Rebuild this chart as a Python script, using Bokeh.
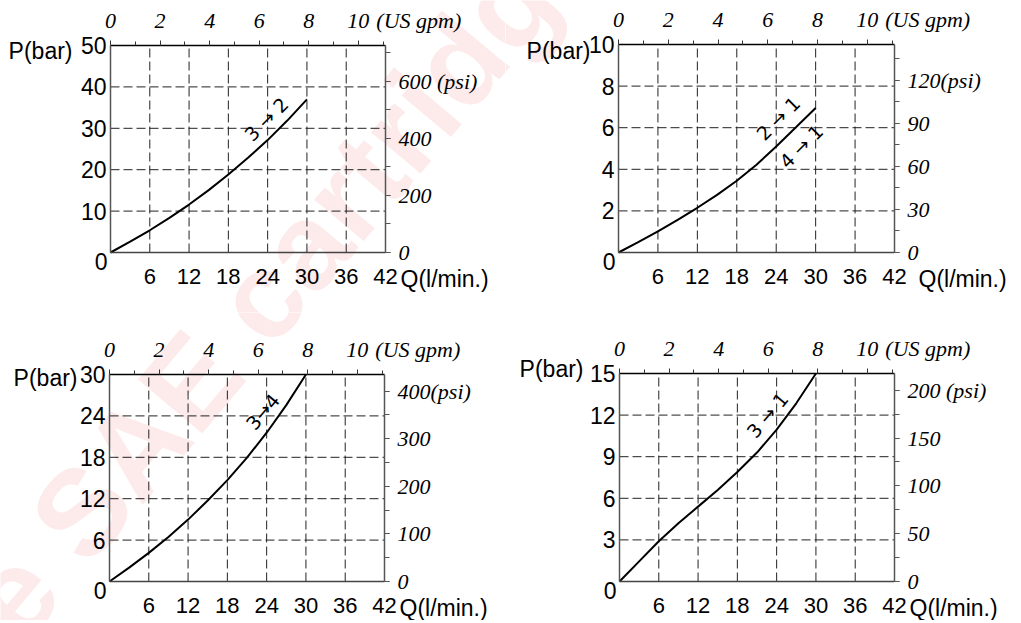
from bokeh.plotting import figure
from bokeh.models import Range1d, LinearAxis, FixedTicker, Label
from bokeh.layouts import column, row
from bokeh.embed import file_html
from bokeh.resources import INLINE

# ---------------- data ----------------
q_flow = [0, 3, 6, 9, 12, 15, 18, 21, 24, 27, 30]          # l/min
p_3to2 = [0, 2.6, 5.37, 8.35, 11.58, 15.07, 18.83, 22.86, 27.15, 31.87, 37.0]
p_2to1 = [0, 0.5, 1.02, 1.57, 2.15, 2.77, 3.45, 4.22, 5.1, 6.02, 6.95]
p_3to4 = [0, 2.01, 4.15, 6.46, 8.97, 11.73, 14.69, 17.95, 21.56, 25.56, 30.0]
p_3to1 = [0, 1.45, 2.9, 4.2, 5.4, 6.6, 7.9, 9.3, 10.95, 12.85, 15.0]

q_ticks = [6, 12, 18, 24, 30, 36, 42]
gpm_major = [0, 2, 4, 6, 8, 10]
gpm_minor = list(range(0, 12))

bar_ticks_1 = [0, 10, 20, 30, 40, 50]
bar_ticks_2 = [0, 2, 4, 6, 8, 10]
bar_ticks_3 = [0, 6, 12, 18, 24, 30]
bar_ticks_4 = [0, 3, 6, 9, 12, 15]

psi_major_1 = [0, 200, 400, 600]
psi_minor_1 = [0, 100, 200, 300, 400, 500, 600, 700]
psi_major_2 = [0, 30, 60, 90, 120]
psi_minor_2 = [0, 15, 30, 45, 60, 75, 90, 105, 120, 135]
psi_major_3 = [0, 100, 200, 300, 400]
psi_minor_3 = [0, 50, 100, 150, 200, 250, 300, 350, 400]
psi_major_4 = [0, 50, 100, 150, 200]
psi_minor_4 = [0, 25, 50, 75, 100, 125, 150, 175, 200]

psi_label_1 = "600 (psi)"
psi_label_2 = "120(psi)"
psi_label_3 = "400(psi)"
psi_label_4 = "200 (psi)"

label_3to2 = "3 → 2"
label_2to1 = "2 → 1"
label_4to1 = "4 → 1"
label_3to4 = "3→4"
label_3to1 = "3 → 1"

LPM_PER_GPM = 3.785411784
PSI_PER_BAR = 14.5038
Q_MAX = 42

SANS = "Liberation Sans"
SERIF = "Liberation Serif"
WM_TEXT = "e SAE cartridge"
WM_PAGE = (-10, 620)


def make_panel(cx, cy, cw, ch, frame_l, frame_t, fw, fh,
               bar_ticks, psi_major, psi_minor, psi_label, q, p,
               notes, pbar_off, q_off):
    ymax = bar_ticks[-1]
    bl = frame_l - cx          # frame offset inside canvas
    bt = frame_t - cy
    kx = Q_MAX / fw            # data units per pixel
    ky = ymax / fh
    x0, x1 = -bl * kx, (cw - bl) * kx
    y1 = ymax + bt * ky
    y0 = -(ch - bt - fh) * ky

    fig = figure(width=cw, height=ch, x_range=Range1d(x0, x1), y_range=Range1d(y0, y1),
                 toolbar_location=None, output_backend="svg", title=None,
                 x_axis_location=None, y_axis_location=None,
                 min_border=0, min_border_left=0, min_border_right=0,
                 min_border_top=0, min_border_bottom=0)
    fig.center = []
    fig.outline_line_color = None
    fig.background_fill_color = "white"
    fig.border_fill_color = "white"

    # watermark (decorative), anchored in page coordinates
    wx = (WM_PAGE[0] - frame_l) * kx
    wy = (frame_t + fh - WM_PAGE[1]) * ky
    fig.add_layout(Label(x=wx, y=wy, text=WM_TEXT, angle=50, angle_units="deg",
                         text_font=SANS, text_font_style="bold", text_font_size="122px",
                         text_color="#fdebeb", text_align="left",
                         text_baseline="alphabetic", level="image"))

    # dashed grid, limited to the plot box
    gx = q_ticks[:-1]
    gy = bar_ticks[1:-1]
    fig.segment(x0=gx, y0=[0] * len(gx), x1=gx, y1=[ymax] * len(gx),
                line_color="#222", line_dash="9 4", line_width=1)
    fig.segment(x0=[0] * len(gy), y0=gy, x1=[Q_MAX] * len(gy), y1=gy,
                line_color="#222", line_dash="9 4", line_width=1)

    # bottom axis: l/min
    xb = LinearAxis(ticker=FixedTicker(ticks=q_ticks), fixed_location=0, bounds=(0, Q_MAX))
    xb.major_tick_line_color = None
    xb.minor_tick_line_color = None
    xb.major_label_text_font = SANS
    xb.major_label_text_font_size = "22px"
    xb.major_label_text_color = "black"
    xb.major_label_standoff = 10
    xb.axis_line_color = "#444"
    xb.axis_line_width = 1.5
    fig.add_layout(xb, "below")

    # left axis: bar
    yl = LinearAxis(ticker=FixedTicker(ticks=bar_ticks[1:]), fixed_location=0, bounds=(0, ymax))
    yl.major_tick_line_color = None
    yl.minor_tick_line_color = None
    yl.major_label_text_font = SANS
    yl.major_label_text_font_size = "23px"
    yl.major_label_text_color = "black"
    yl.major_label_standoff = -2
    yl.axis_line_color = "#555"
    yl.axis_line_width = 1.5
    fig.add_layout(yl, "left")

    # top axis: US gpm
    fig.extra_x_ranges = {"gpm": Range1d(x0 / LPM_PER_GPM, x1 / LPM_PER_GPM)}
    ax_top = LinearAxis(x_range_name="gpm", fixed_location=ymax,
                        bounds=(0, Q_MAX / LPM_PER_GPM),
                        ticker=FixedTicker(ticks=gpm_major, minor_ticks=gpm_minor))
    ax_top.major_tick_out = 5
    ax_top.major_tick_in = 0
    ax_top.minor_tick_out = 4
    ax_top.minor_tick_in = 0
    ax_top.major_tick_line_color = "#333"
    ax_top.minor_tick_line_color = "#333"
    ax_top.axis_line_color = "black"
    ax_top.axis_line_width = 1.5
    ax_top.major_label_text_font = SERIF
    ax_top.major_label_text_font_style = "italic"
    ax_top.major_label_text_font_size = "22px"
    ax_top.major_label_text_color = "black"
    ax_top.major_label_standoff = 13
    fig.add_layout(ax_top, "above")

    # right axis: psi
    fig.extra_y_ranges = {"psi": Range1d(y0 * PSI_PER_BAR, y1 * PSI_PER_BAR)}
    ax_r = LinearAxis(y_range_name="psi", fixed_location=Q_MAX,
                      bounds=(0, ymax * PSI_PER_BAR),
                      ticker=FixedTicker(ticks=psi_major, minor_ticks=psi_minor))
    ax_r.major_label_overrides = {psi_major[-1]: psi_label}
    ax_r.major_tick_out = 5
    ax_r.major_tick_in = 0
    ax_r.minor_tick_out = 5
    ax_r.minor_tick_in = 0
    ax_r.major_tick_line_color = "#555"
    ax_r.minor_tick_line_color = "#555"
    ax_r.axis_line_color = "#555"
    ax_r.axis_line_width = 1.5
    ax_r.major_label_text_font = SERIF
    ax_r.major_label_text_font_style = "italic"
    ax_r.major_label_text_font_size = "22px"
    ax_r.major_label_text_color = "black"
    ax_r.major_label_standoff = 8
    fig.add_layout(ax_r, "right")

    # curve
    fig.line(q, p, line_color="black", line_width=2)

    # flow direction notes
    for txt, nx, ny, ang in notes:
        fig.add_layout(Label(x=nx, y=ny, text=txt, angle=ang, angle_units="deg",
                             text_font="DejaVu Sans", text_font_size="19px",
                             text_color="black", text_align="center",
                             text_baseline="middle"))

    # axis titles and corner labels
    fig.add_layout(Label(x=0, y=ymax, text="P(bar)", x_offset=pbar_off[0], y_offset=pbar_off[1],
                         text_font=SANS, text_font_size="23px", text_align="right",
                         text_baseline="middle", text_color="black"))
    fig.add_layout(Label(x=Q_MAX, y=0, text="Q(l/min.)", x_offset=q_off, y_offset=-26,
                         text_font=SANS, text_font_size="23px", text_align="left",
                         text_baseline="middle", text_color="black"))
    fig.add_layout(Label(x=0, y=0, text="0", x_offset=-3, y_offset=-9,
                         text_font=SANS, text_font_size="23px", text_align="right",
                         text_baseline="middle", text_color="black"))
    fig.add_layout(Label(x=10 * LPM_PER_GPM, y=ymax, text="(US gpm)", x_offset=18, y_offset=25,
                         text_font=SERIF, text_font_style="italic", text_font_size="22px",
                         text_align="left", text_baseline="alphabetic", text_color="black"))
    return fig


p1 = make_panel(0, 0, 505, 312, 110, 45, 275, 207, bar_ticks_1, psi_major_1, psi_minor_1,
                psi_label_1, q_flow, p_3to2,
                [(label_3to2, 23.8, 32.2, 45)], (-38, -5), 15)
p2 = make_panel(505, 0, 511, 312, 618, 44, 276, 208, bar_ticks_2, psi_major_2, psi_minor_2,
                psi_label_2, q_flow, p_2to1,
                [(label_2to1, 24.3, 6.45, 45), (label_4to1, 27.8, 5.1, 45)], (-28, -6), 24)
p3 = make_panel(0, 312, 505, 308, 109, 374, 275, 207, bar_ticks_3, psi_major_3, psi_minor_3,
                psi_label_3, q_flow, p_3to4,
                [(label_3to4, 23.4, 24.6, 50)], (-32, -3), 15)
p4 = make_panel(505, 312, 511, 308, 619, 373, 275, 208, bar_ticks_4, psi_major_4, psi_minor_4,
                psi_label_4, q_flow, p_3to1,
                [(label_3to1, 22.6, 12.0, 50)], (-36, 5), 15)

layout = column(row(p1, p2), row(p3, p4))
open("out.html", "w").write(file_html(layout, INLINE))
